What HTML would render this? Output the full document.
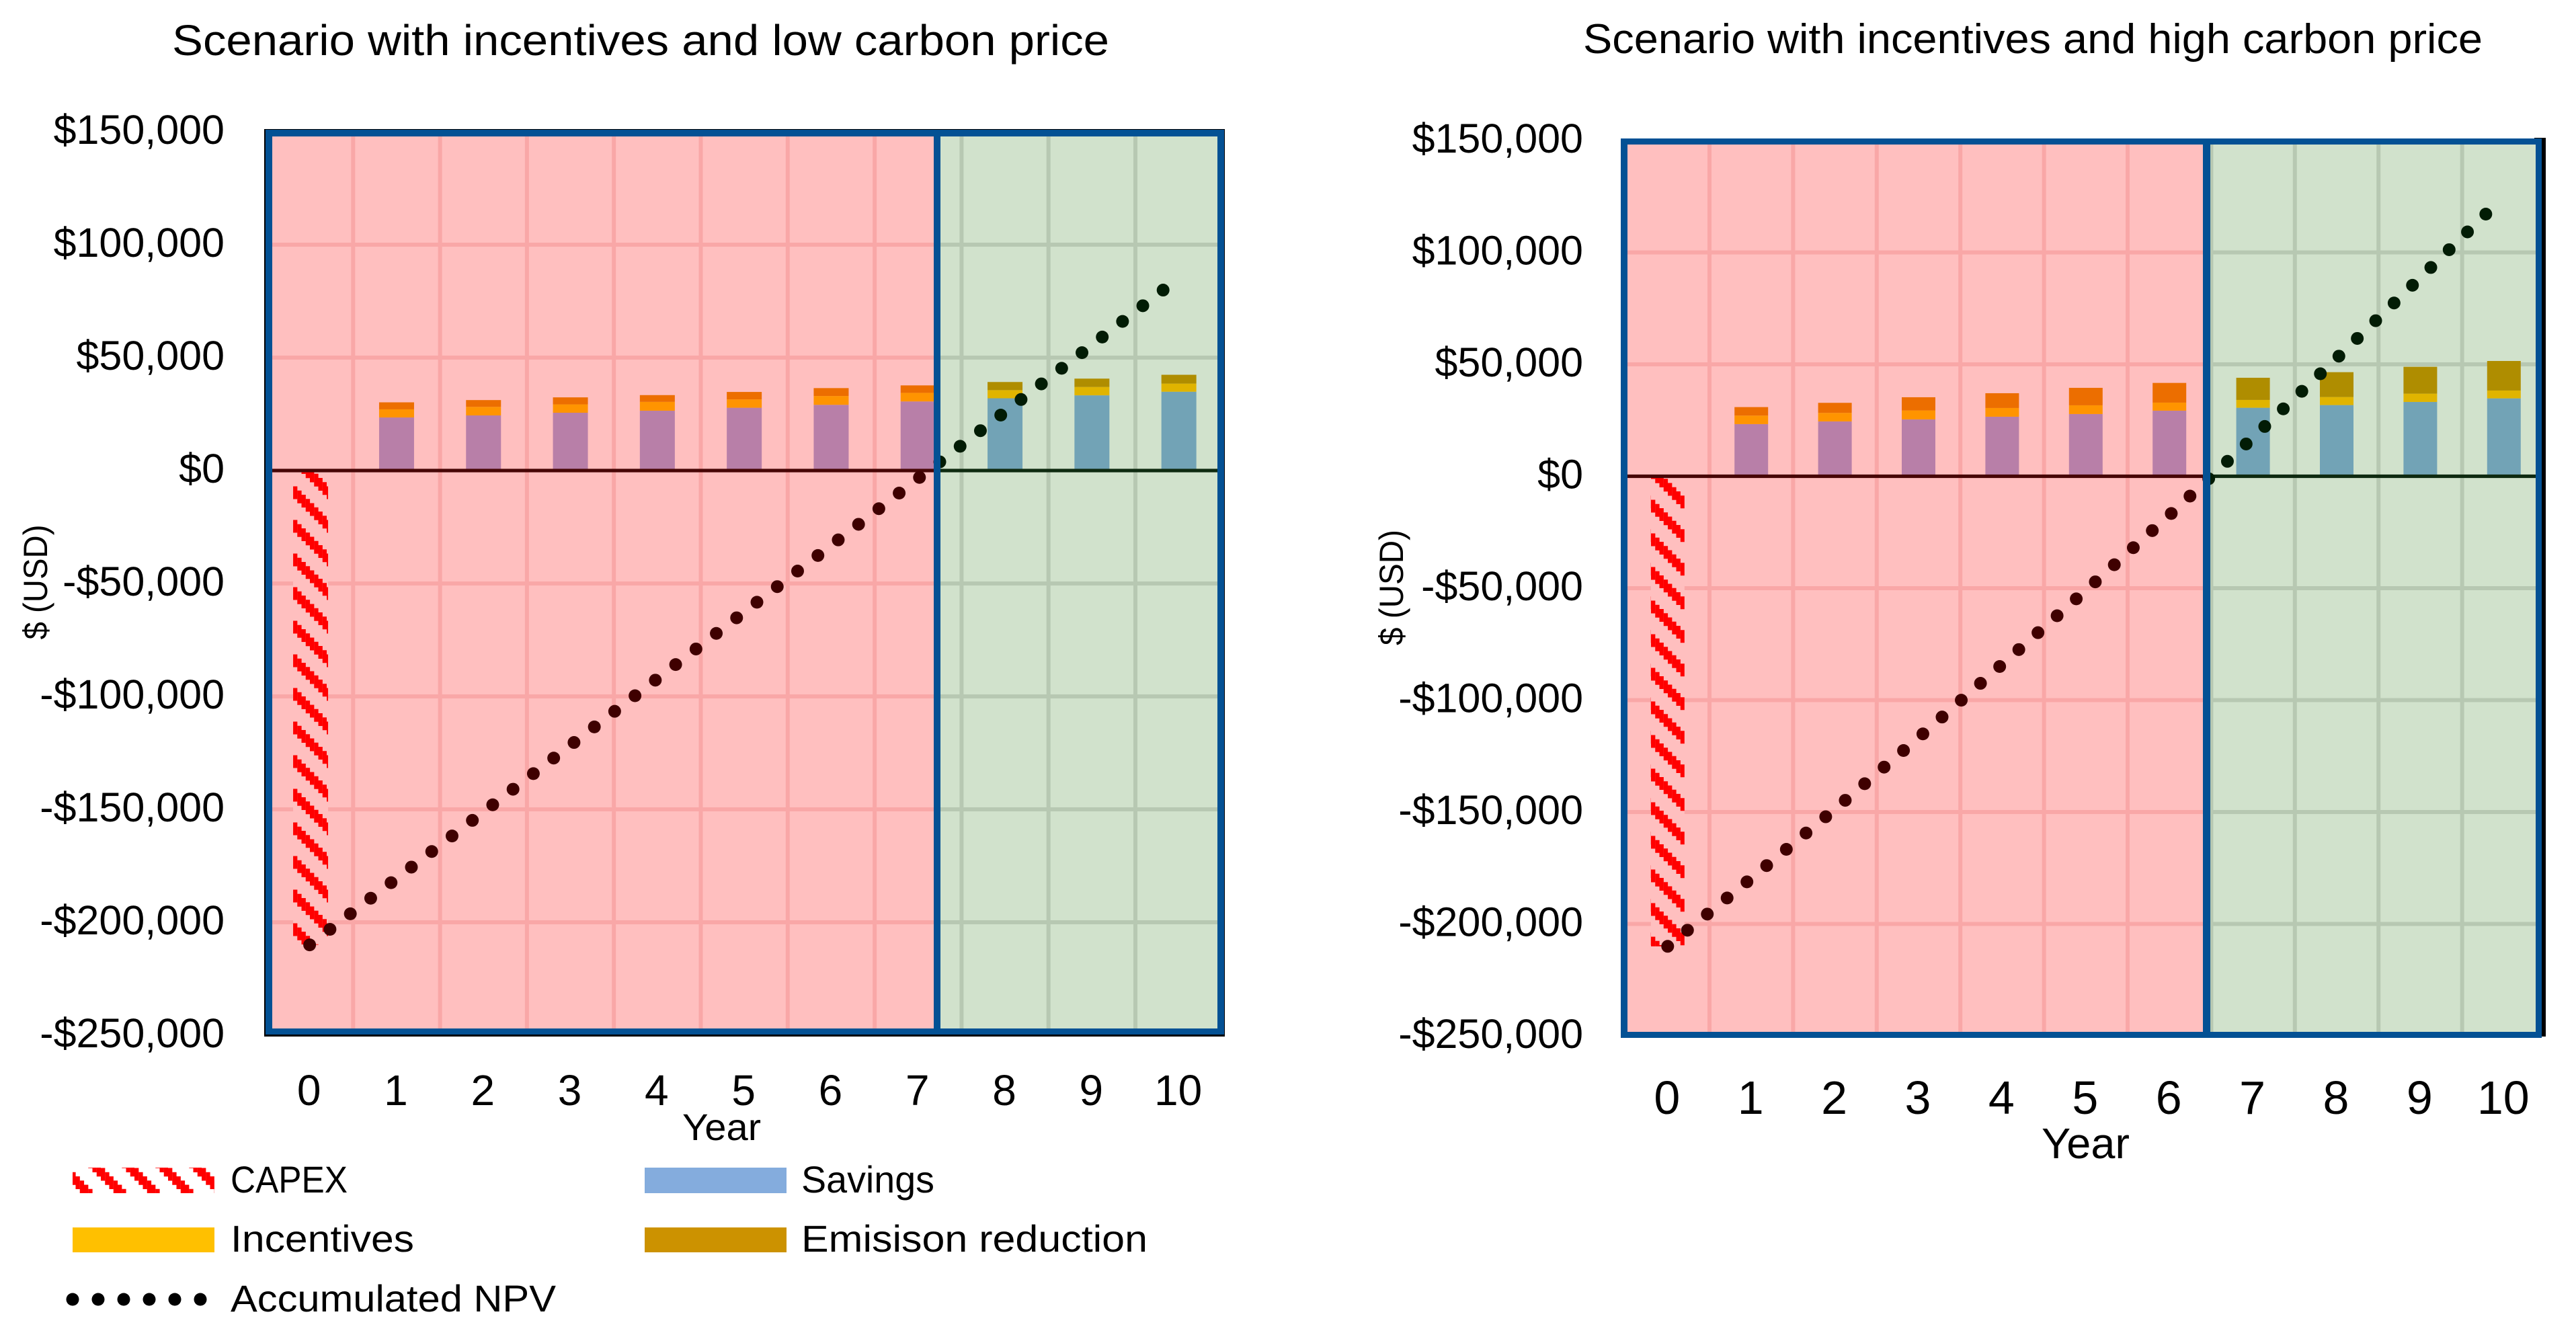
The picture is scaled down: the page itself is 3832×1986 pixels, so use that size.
<!DOCTYPE html>
<html lang="en">
<head>
<meta charset="utf-8">
<title>Scenario comparison</title>
<style>
html,body{margin:0;padding:0;background:#fff;}
svg{display:block;}
text{font-family:"Liberation Sans",Arial,sans-serif;fill:#000;}
</style>
</head>
<body>
<svg id="figure" xmlns="http://www.w3.org/2000/svg" width="3832" height="1986" viewBox="0 0 3832 1986">
  <defs>
    <pattern id="capex-left" patternUnits="userSpaceOnUse" width="50" height="50" patternTransform="translate(436 33)"></pattern>
    <pattern id="capex-right" patternUnits="userSpaceOnUse" width="50" height="50" patternTransform="translate(2456 3)"></pattern>
    <pattern id="capex-legend" patternUnits="userSpaceOnUse" width="50" height="50" patternTransform="translate(0 47)"></pattern>
  </defs>

  <text x="256" y="82" font-size="64" textLength="1394" lengthAdjust="spacingAndGlyphs">Scenario with incentives and low carbon price</text>
  <text x="2355" y="79" font-size="62" textLength="1338" lengthAdjust="spacingAndGlyphs">Scenario with incentives and high carbon price</text>

  <g id="left-panel"></g>
  <g id="right-panel"></g>

  <text transform="translate(70 866) rotate(-90)" text-anchor="middle" font-size="50" textLength="171" lengthAdjust="spacingAndGlyphs">$ (USD)</text>
  <text transform="translate(2087 874) rotate(-90)" text-anchor="middle" font-size="50" textLength="172" lengthAdjust="spacingAndGlyphs">$ (USD)</text>
  <text x="1015" y="1696" font-size="56" textLength="117" lengthAdjust="spacingAndGlyphs">Year</text>
  <text x="3037" y="1723" font-size="64" textLength="131" lengthAdjust="spacingAndGlyphs">Year</text>

  <g>
    <g>
      <rect x="108" y="1737" width="211" height="38" fill="url(#capex-legend)"/>
      <text x="343" y="1774" font-size="56" textLength="174" lengthAdjust="spacingAndGlyphs">CAPEX</text>
    </g>
    <g>
      <rect x="959" y="1737" width="211" height="38" fill="#84ACDD"/>
      <text x="1192" y="1774" font-size="56" textLength="198" lengthAdjust="spacingAndGlyphs">Savings</text>
    </g>
    <g>
      <rect x="108" y="1826" width="211" height="37" fill="#FFC000"/>
      <text x="343" y="1862" font-size="56" textLength="273" lengthAdjust="spacingAndGlyphs">Incentives</text>
    </g>
    <g>
      <rect x="959" y="1826" width="211" height="37" fill="#CC9200"/>
      <text x="1192" y="1862" font-size="56" textLength="515" lengthAdjust="spacingAndGlyphs">Emisison reduction</text>
    </g>
    <g>
      <line x1="108" y1="1933" x2="300" y2="1933" stroke="#000" stroke-width="19" stroke-linecap="round" stroke-dasharray="0 38"/>
      <text x="343" y="1951" font-size="56" textLength="484" lengthAdjust="spacingAndGlyphs">Accumulated NPV</text>
    </g>
  </g>
</svg>

<script>
const years = ["0","1","2","3","4","5","6","7","8","9","10"];
const yTicks = [150000,100000,50000,0,-50000,-100000,-150000,-200000,-250000];
const yTickLabels = ["$150,000","$100,000","$50,000","$0","-$50,000","-$100,000","-$150,000","-$200,000","-$250,000"];

const lowCapex = [-210000,0,0,0,0,0,0,0,0,0,0];
const lowSavings = [0,23500,24400,25600,26500,27800,29100,30600,32000,33300,34900];
const lowIncentives = [0,3600,3800,3700,3900,3700,3900,3800,3600,3700,3600];
const lowEmission = [0,3100,3000,3100,3000,3300,3500,3300,3600,3700,3900];
const lowNpv = [-210000,-180600,-151100,-121600,-92100,-62600,-33100,-3500,26000,55600,85300];

const highCapex = [-210000,0,0,0,0,0,0,0,0,0,0];
const highSavings = [0,23300,24500,25400,26600,27800,29300,30600,31800,33200,34800];
const highIncentives = [0,3800,3800,4000,3900,3900,3600,3500,3600,3700,3500];
const highEmission = [0,3800,4500,5900,6600,7800,8800,9900,11100,12000,13200];
const highNpv = [-210000,-179600,-148700,-116800,-84000,-51000,-17400,17300,52700,88700,125000];

const SVGNS = 'http://www.w3.org/2000/svg';
function el(parent, tag, attrs, text) {
  const n = document.createElementNS(SVGNS, tag);
  for (const k in attrs) n.setAttribute(k, attrs[k]);
  if (text !== undefined) n.textContent = text;
  parent.appendChild(n);
  return n;
}

function buildHatch(id, bg) {
  const p = document.getElementById(id);
  el(p, 'rect', {width:50, height:50, fill:bg});
  const stepSize = 6.25, thick = 19;
  for (let k = 0; k < 8; k++) {
    const x = k * stepSize, y = k * stepSize - thick / 2;
    [y - 50, y, y + 50].forEach(yy => {
      el(p, 'rect', {x:x, y:yy, width:stepSize + 0.1, height:thick, fill:'#FF0000'});
    });
  }
}
buildHatch('capex-left', '#FFBFBF');
buildHatch('capex-right', '#FFBFBF');
buildHatch('capex-legend', '#FFFFFF');

const redPalette = {bg:'#FFBFBF', grid:'#F9A7A7', zero:'#470606', savings:'#B87FA8', incentives:'#FF9400', emission:'#EC6E00', npv:'#3F0000', capex:true};
const greenPalette = {bg:'#D1E2CC', grid:'#B7C8B2', zero:'#0E2A10', savings:'#72A3B6', incentives:'#E0B400', emission:'#AF8D00', npv:'#021C05', capex:false};

function drawPanel(cfg) {
  const root = document.getElementById(cfg.id);
  const yZero = cfg.plotTop + (150000 / 400000) * (cfg.plotBottom - cfg.plotTop);
  const xScale = i => cfg.plotLeft + cfg.step * (i + 0.5);
  const yScale = v => yZero - v * (cfg.plotBottom - cfg.plotTop) / 400000;

  const back = el(root, 'rect', cfg.backing);
  
  

  const zones = [
    {name:'unprofitable', x:cfg.frameInnerLeft, w:cfg.dividerLeft - cfg.frameInnerLeft, p:redPalette},
    {name:'profitable', x:cfg.dividerRight, w:cfg.frameInnerRight - cfg.dividerRight, p:greenPalette}
  ];

  zones.forEach(z => {
    const clipId = cfg.prefix + '-clip-' + z.name;
    const clip = el(root, 'clipPath', {id:clipId});
    el(clip, 'rect', {x:z.x, y:cfg.frameInnerTop, width:z.w, height:cfg.frameInnerBottom - cfg.frameInnerTop});

    const g = el(root, 'g', {'clip-path':'url(#' + clipId + ')'});
    
    

    const bg = el(g, 'rect', {x:z.x, y:cfg.frameInnerTop, width:z.w, height:cfg.frameInnerBottom - cfg.frameInnerTop, fill:z.p.bg});
    
    

    for (let i = 1; i < years.length; i++) {
      const gx = cfg.plotLeft + cfg.step * i;
      const vg = el(g, 'rect', {x:gx - 3, y:cfg.frameInnerTop, width:6, height:cfg.frameInnerBottom - cfg.frameInnerTop, fill:z.p.grid});
      
      
    }
    yTicks.forEach(t => {
      if (t === 0 || t === 150000 || t === -250000) return;
      const hg = el(g, 'rect', {x:z.x, y:yScale(t) - 3, width:z.w, height:6, fill:z.p.grid});
      
      
    });

    years.forEach((yr, i) => {
      const bx = xScale(i) - cfg.barWidth / 2;
      let cum = 0;
      [['savings', cfg.savings[i], z.p.savings], ['incentives', cfg.incentives[i], z.p.incentives], ['emission-reduction', cfg.emission[i], z.p.emission]].forEach(s => {
        if (s[1] <= 0) return;
        const top = yScale(cum + s[1]);
        const b = el(g, 'rect', {x:bx, y:top, width:cfg.barWidth, height:yScale(cum) - top, fill:s[2]});
        
        
        cum += s[1];
      });
      if (cfg.capex[i] < 0 && z.p.capex) {
        const c = el(g, 'rect', {x:bx + cfg.capexShift, y:yScale(0), width:cfg.barWidth, height:yScale(cfg.capex[i]) - yScale(0), fill:'url(#' + cfg.capexPattern + ')'});
        
        
      }
    });

    const zl = el(g, 'rect', {x:z.x, y:yScale(0) - 2.6, width:z.w, height:5.2, fill:z.p.zero});
    
    

    const pts = cfg.npv.map((v, i) => xScale(i).toFixed(1) + ',' + yScale(v).toFixed(1)).join(' ');
    const line = el(g, 'polyline', {points:pts, fill:'none', stroke:z.p.npv, 'stroke-width':19, 'stroke-linecap':'round', 'stroke-dasharray':'0 ' + cfg.dash});
    
    
  });

  cfg.frame.forEach(f => {
    const r = el(root, 'rect', {x:f[1], y:f[2], width:f[3], height:f[4], fill:'#035194'});
    
    
  });

  yTicks.forEach((t, i) => {
    const lab = el(root, 'text', {x:cfg.yLabelX, y:yScale(t) + 18, 'text-anchor':'end', 'font-size':61}, yTickLabels[i]);
    
    
  });
  years.forEach((yr, i) => {
    const lab = el(root, 'text', {x:xScale(i) - 1, y:cfg.xLabelY, 'text-anchor':'middle', 'font-size':cfg.xLabelSize}, yr);
    
    
  });
}

drawPanel({
  id:'left-panel', prefix:'left', capexPattern:'capex-left', capexShift:1.4,
  plotLeft:396, step:129.3, plotTop:196, plotBottom:1540, barWidth:52, dash:38.1,
  frameInnerLeft:405, frameInnerRight:1811, frameInnerTop:203, frameInnerBottom:1530,
  dividerLeft:1389, dividerRight:1399,
  yLabelX:334, xLabelY:1644, xLabelSize:64,
  backing:{x:393, y:192, width:1429, height:1350, fill:'#000'},
  frame:[
    ['frame-top', 395, 193, 1426, 10],
    ['frame-bottom', 395, 1530, 1426, 9],
    ['frame-left', 395, 193, 10, 1346],
    ['frame-right', 1811, 193, 10, 1346],
    ['breakeven-divider', 1389, 193, 10, 1346]
  ],
  savings:lowSavings, incentives:lowIncentives, emission:lowEmission, capex:lowCapex, npv:lowNpv
});

drawPanel({
  id:'right-panel', prefix:'right', capexPattern:'capex-right', capexShift:0,
  plotLeft:2418.6, step:124.4, plotTop:209, plotBottom:1541, barWidth:50, dash:38,
  frameInnerLeft:2421, frameInnerRight:3772, frameInnerTop:215, frameInnerBottom:1535,
  dividerLeft:3277, dividerRight:3288,
  yLabelX:2355, xLabelY:1657, xLabelSize:70,
  backing:{x:3770, y:205, width:17, height:1337, fill:'#000'},
  frame:[
    ['frame-top', 2411, 206, 1370, 9],
    ['frame-bottom', 2411, 1535, 1370, 9],
    ['frame-left', 2411, 206, 10, 1338],
    ['frame-right', 3772, 206, 9, 1337],
    ['breakeven-divider', 3277, 206, 11, 1338]
  ],
  savings:highSavings, incentives:highIncentives, emission:highEmission, capex:highCapex, npv:highNpv
});
</script>
</body>
</html>
